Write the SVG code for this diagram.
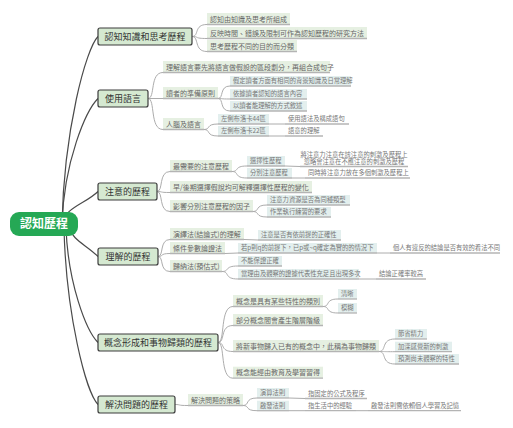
<svg xmlns="http://www.w3.org/2000/svg" width="513" height="428" viewBox="0 0 513 428">
<style>
text{font-family:"Noto Sans CJK TC","Noto Sans CJK SC",sans-serif}
.bg{fill:#ffffff}
.mb{fill:#d5e9d1;stroke:#3c3c3c;stroke-width:1.2}
.mt{font-size:9px;fill:#333;text-anchor:middle}
.rt{font-size:12px;fill:#fff;font-weight:bold;text-anchor:middle}
.l2{fill:#e6f0e2}
.l3{fill:#e3efee}
.ul{stroke:#b4b4b4;stroke-width:1.3}
.t2{font-size:7px;fill:#666}
.t3{font-size:6.3px;fill:#777}
.c{fill:none;stroke:#acacac;stroke-width:1}
.rc{fill:none;stroke:#4a4a4a;stroke-width:1.2}
</style>
<rect class="bg" x="0" y="0" width="513" height="428"/>
<g id="connectors">
<path class="rc" d="M62 224 C64 130 86 48.5 98 36.5"/>
<path class="rc" d="M62 224 C64 161 86 110.5 98 98.5"/>
<path class="rc" d="M62 224 C64 208 86 203.5 98 191.5"/>
<path class="rc" d="M70 228 C72 240 86 244.5 98 256.5"/>
<path class="rc" d="M66 228 C68 283 86 330.5 98 342.5"/>
<path class="rc" d="M64 228 C66 314 86 392.5 98 404.5"/>
<path class="c" d="M192 36.5 C199.5 36.5 193.5 24.5 207 24.5"/>
<path class="c" d="M192 36.5 C199.5 36.5 193.5 38.5 207 38.5"/>
<path class="c" d="M192 36.5 C199.5 36.5 193.5 51.5 207 51.5"/>
<path class="c" d="M148 98.5 C155.5 98.5 149.5 72.5 163 72.5"/>
<path class="c" d="M148 98.5 H163"/>
<path class="c" d="M148 98.5 C155.5 98.5 149.5 129.5 163 129.5"/>
<path class="c" d="M218 98.5 C224 98.5 219.2 86 230 86"/>
<path class="c" d="M218 98.5 C224 98.5 219.2 99 230 99"/>
<path class="c" d="M218 98.5 C224 98.5 219.2 111 230 111"/>
<path class="c" d="M204 129.5 C211 129.5 205.4 124 218 124"/>
<path class="c" d="M204 129.5 C211 129.5 205.4 136 218 136"/>
<path class="c" d="M269 124 H285"/>
<path class="c" d="M269 136 H285"/>
<path class="c" d="M157 191.5 C163.5 191.5 158.3 171.5 170 171.5"/>
<path class="c" d="M157 191.5 C163.5 191.5 158.3 192.5 170 192.5"/>
<path class="c" d="M157 191.5 C163.5 191.5 158.3 211.5 170 211.5"/>
<path class="c" d="M232 171.5 C239.5 171.5 233.5 166 247 166"/>
<path class="c" d="M232 171.5 C239.5 171.5 233.5 178 247 178"/>
<path class="c" d="M285 166 L300 166.5"/>
<path class="c" d="M292 178 H305"/>
<path class="c" d="M253 211.5 C260 211.5 254.5 205 267 205"/>
<path class="c" d="M253 211.5 C260 211.5 254.5 217 267 217"/>
<path class="c" d="M158 256.5 C164 256.5 159.2 239.5 170 239.5"/>
<path class="c" d="M158 256.5 C164 256.5 159.2 253.5 170 253.5"/>
<path class="c" d="M158 256.5 C164 256.5 159.2 271.5 170 271.5"/>
<path class="c" d="M244 239.5 L258 240"/>
<path class="c" d="M225 253.5 L238 253"/>
<path class="c" d="M377 253 H390"/>
<path class="c" d="M222 271.5 C230 271.5 223.6 266 238 266"/>
<path class="c" d="M222 271.5 C230 271.5 223.6 279 238 279"/>
<path class="c" d="M359 279 H376"/>
<path class="c" d="M218 342.5 C225.5 342.5 219.5 306.5 233 306.5"/>
<path class="c" d="M218 342.5 C225.5 342.5 219.5 325.5 233 325.5"/>
<path class="c" d="M218 342.5 C225.5 342.5 219.5 351.5 233 351.5"/>
<path class="c" d="M218 342.5 C225.5 342.5 219.5 378.2 233 378.2"/>
<path class="c" d="M323 306.5 C330.5 306.5 324.5 299 338 299"/>
<path class="c" d="M323 306.5 C330.5 306.5 324.5 313 338 313"/>
<path class="c" d="M379 351.5 C387 351.5 380.6 339 395 339"/>
<path class="c" d="M379 351.5 C387 351.5 380.6 351.7 395 351.7"/>
<path class="c" d="M379 351.5 C387 351.5 380.6 364 395 364"/>
<path class="c" d="M175 404.5 C181.5 404.5 176.3 405.5 188 405.5"/>
<path class="c" d="M243 405.5 C250 405.5 244.4 398 257 398"/>
<path class="c" d="M243 405.5 C250 405.5 244.4 410.7 257 410.7"/>
<path class="c" d="M289 398 L305 398.5"/>
<path class="c" d="M289 410.7 H305"/>
<path class="c" d="M356 410.7 H368"/>
</g>

<g id="root">
<rect x="10" y="212" width="68" height="24" rx="9" fill="#25a855"/>
<text class="rt" x="44" y="228.2">認知歷程</text>
</g>

<g id="b1">
<rect class="mb" x="98" y="28" width="94" height="17" rx="2"/>
<text class="mt" x="145" y="39.7">認知知識和思考歷程</text>
</g>
<g id="b1c1"><rect class="l2" x="207" y="13" width="83" height="11.5"/><line class="ul" x1="207" y1="24.5" x2="290" y2="24.5"/><text class="t2" x="210" y="21.5">認知由知識及思考所組成</text></g>
<g id="b1c2"><rect class="l2" x="207" y="27" width="160" height="11.5"/><line class="ul" x1="207" y1="38.5" x2="367" y2="38.5"/><text class="t2" x="210" y="35.5">反映時間、錯誤及限制可作為認知歷程的研究方法</text></g>
<g id="b1c3"><rect class="l2" x="207" y="40" width="90" height="11.5"/><line class="ul" x1="207" y1="51.5" x2="297" y2="51.5"/><text class="t2" x="210" y="48.5">思考歷程不同的目的而分類</text></g>

<g id="b2">
<rect class="mb" x="98" y="90" width="50" height="17" rx="2"/>
<text class="mt" x="123" y="101.7">使用語言</text>
</g>
<g id="b2c1"><rect class="l2" x="163" y="61" width="167" height="11.5"/><line class="ul" x1="163" y1="72.5" x2="330" y2="72.5"/><text class="t2" x="166" y="69.5">理解語言要先將語言做假設的區段劃分，再組合成句子</text></g>
<g id="b2c2"><rect class="l2" x="163" y="87" width="55" height="11.5"/><line class="ul" x1="163" y1="98.5" x2="218" y2="98.5"/><text class="t2" x="166" y="95.5">讀者的準備原則</text></g>
<g id="b2c2a"><rect class="l3" x="230" y="76" width="121" height="10"/><line class="ul" x1="230" y1="86" x2="351" y2="86"/><text class="t3" x="233" y="83.3">假定讀者方面有相同的背景知識及日常理解</text></g>
<g id="b2c2b"><rect class="l3" x="230" y="89" width="77" height="10"/><line class="ul" x1="230" y1="99" x2="307" y2="99"/><text class="t3" x="233" y="96.3">依據讀者認知的語言內容</text></g>
<g id="b2c2c"><rect class="l3" x="230" y="101" width="77" height="10"/><line class="ul" x1="230" y1="111" x2="307" y2="111"/><text class="t3" x="233" y="108.3">以讀者能理解的方式敘述</text></g>
<g id="b2c3"><rect class="l2" x="163" y="118" width="41" height="11.5"/><line class="ul" x1="163" y1="129.5" x2="204" y2="129.5"/><text class="t2" x="166" y="126.5">人腦及語言</text></g>
<g id="b2c3a"><rect class="l3" x="218" y="114" width="51" height="10"/><line class="ul" x1="218" y1="124" x2="269" y2="124"/><text class="t3" x="221" y="121.3">左側布洛卡44區</text></g>
<g id="b2c3a1"><line class="ul" x1="285" y1="124" x2="349" y2="124"/><text class="t3" x="288" y="121.3">使用語法及構成語句</text></g>
<g id="b2c3b"><rect class="l3" x="218" y="126" width="51" height="10"/><line class="ul" x1="218" y1="136" x2="269" y2="136"/><text class="t3" x="221" y="133.3">左側布洛卡22區</text></g>
<g id="b2c3b1"><line class="ul" x1="285" y1="136" x2="323" y2="136"/><text class="t3" x="288" y="133.3">語意的理解</text></g>

<g id="b3">
<rect class="mb" x="98" y="183" width="59" height="17" rx="2"/>
<text class="mt" x="127.5" y="194.7">注意的歷程</text>
</g>
<g id="b3c1"><rect class="l2" x="170" y="160" width="62" height="11.5"/><line class="ul" x1="170" y1="171.5" x2="232" y2="171.5"/><text class="t2" x="173" y="168.5">最需要的注意歷程</text></g>
<g id="b3c1a"><rect class="l3" x="247" y="156" width="38" height="10"/><line class="ul" x1="247" y1="166" x2="285" y2="166"/><text class="t3" x="250" y="163.3">選擇性歷程</text></g>
<g id="b3c1a1"><line class="ul" x1="300" y1="166.5" x2="408" y2="166.5"/><text class="t3" x="354" y="156.5" text-anchor="middle">將注意力注意在該注意的刺激及歷程上</text><text class="t3" x="354" y="164" text-anchor="middle">忽略會注意在不應注意的刺激及歷程</text></g>
<g id="b3c1b"><rect class="l3" x="247" y="168" width="45" height="10"/><line class="ul" x1="247" y1="178" x2="292" y2="178"/><text class="t3" x="250" y="175.3">分別注意歷程</text></g>
<g id="b3c1b1"><line class="ul" x1="305" y1="178" x2="410" y2="178"/><text class="t3" x="308" y="175.3">同時將注意力放在多個刺激及歷程上</text></g>
<g id="b3c2"><rect class="l2" x="170" y="181" width="142" height="11.5"/><line class="ul" x1="170" y1="192.5" x2="312" y2="192.5"/><text class="t2" x="173" y="189.5">早/後期選擇假說均可解釋選擇性歷程的變化</text></g>
<g id="b3c3"><rect class="l2" x="170" y="200" width="83" height="11.5"/><line class="ul" x1="170" y1="211.5" x2="253" y2="211.5"/><text class="t2" x="173" y="208.5">影響分別注意歷程的因子</text></g>
<g id="b3c3a"><rect class="l3" x="267" y="195" width="83" height="10"/><line class="ul" x1="267" y1="205" x2="350" y2="205"/><text class="t3" x="270" y="202.3">注意力資源是否為同種類型</text></g>
<g id="b3c3b"><rect class="l3" x="267" y="207" width="64" height="10"/><line class="ul" x1="267" y1="217" x2="331" y2="217"/><text class="t3" x="270" y="214.3">作業執行練習的要求</text></g>

<g id="b4">
<rect class="mb" x="98" y="248" width="60" height="17" rx="2"/>
<text class="mt" x="128" y="259.7">理解的歷程</text>
</g>
<g id="b4c1"><rect class="l2" x="170" y="228" width="74" height="11.5"/><line class="ul" x1="170" y1="239.5" x2="244" y2="239.5"/><text class="t2" x="173" y="236.5">演繹法(結論式)的理解</text></g>
<g id="b4c1a"><rect class="l3" x="258" y="230" width="83" height="10"/><line class="ul" x1="258" y1="240" x2="341" y2="240"/><text class="t3" x="261" y="237.3">注意是否有依前提的正確性</text></g>
<g id="b4c2"><rect class="l2" x="170" y="242" width="55" height="11.5"/><line class="ul" x1="170" y1="253.5" x2="225" y2="253.5"/><text class="t2" x="173" y="250.5">條件參數論證法</text></g>
<g id="b4c2a"><rect class="l3" x="238" y="243" width="139" height="10"/><line class="ul" x1="238" y1="253" x2="377" y2="253"/><text class="t3" x="241" y="250.3">若p則q的前提下，已p或~q確定為實的的情況下</text></g>
<g id="b4c2a1"><line class="ul" x1="390" y1="253" x2="500" y2="253"/><text class="t3" x="393" y="250.3">個人有違反的結論是否有效的看法不同</text></g>
<g id="b4c3"><rect class="l2" x="170" y="260" width="52" height="11.5"/><line class="ul" x1="170" y1="271.5" x2="222" y2="271.5"/><text class="t2" x="173" y="268.5">歸納法(預估式)</text></g>
<g id="b4c3a"><rect class="l3" x="238" y="256" width="44" height="10"/><line class="ul" x1="238" y1="266" x2="282" y2="266"/><text class="t3" x="241" y="263.3">不能保證正確</text></g>
<g id="b4c3b"><rect class="l3" x="238" y="269" width="121" height="10"/><line class="ul" x1="238" y1="279" x2="359" y2="279"/><text class="t3" x="241" y="276.3">當理由及觀察的證據代表性充足且出現多次</text></g>
<g id="b4c3b1"><line class="ul" x1="376" y1="279" x2="426" y2="279"/><text class="t3" x="379" y="276.3">結論正確率較高</text></g>

<g id="b5">
<rect class="mb" x="98" y="334" width="120" height="17" rx="2"/>
<text class="mt" x="158" y="345.7">概念形成和事物歸類的歷程</text>
</g>
<g id="b5c1"><rect class="l2" x="233" y="295" width="90" height="11.5"/><line class="ul" x1="233" y1="306.5" x2="323" y2="306.5"/><text class="t2" x="236" y="303.5">概念是具有某些特性的類別</text></g>
<g id="b5c1a"><rect class="l3" x="338" y="289" width="19" height="10"/><line class="ul" x1="338" y1="299" x2="357" y2="299"/><text class="t3" x="341" y="296.3">清晰</text></g>
<g id="b5c1b"><rect class="l3" x="338" y="303" width="19" height="10"/><line class="ul" x1="338" y1="313" x2="357" y2="313"/><text class="t3" x="341" y="310.3">模糊</text></g>
<g id="b5c2"><rect class="l2" x="233" y="314" width="90" height="11.5"/><line class="ul" x1="233" y1="325.5" x2="323" y2="325.5"/><text class="t2" x="236" y="322.5">部分概念間會產生階層階級</text></g>
<g id="b5c3"><rect class="l2" x="233" y="340" width="146" height="11.5"/><line class="ul" x1="233" y1="351.5" x2="379" y2="351.5"/><text class="t2" x="236" y="348.5">將新事物歸入已有的概念中，此稱為事物歸類</text></g>
<g id="b5c3a"><rect class="l3" x="395" y="329" width="32" height="10"/><line class="ul" x1="395" y1="339" x2="427" y2="339"/><text class="t3" x="398" y="336.3">節省精力</text></g>
<g id="b5c3b"><rect class="l3" x="395" y="341.7" width="57" height="10"/><line class="ul" x1="395" y1="351.7" x2="452" y2="351.7"/><text class="t3" x="398" y="349">加深感覺新的刺激</text></g>
<g id="b5c3c"><rect class="l3" x="395" y="354" width="64" height="10"/><line class="ul" x1="395" y1="364" x2="459" y2="364"/><text class="t3" x="398" y="361.3">預測尚未觀察的特性</text></g>
<g id="b5c4"><rect class="l2" x="233" y="366.7" width="90" height="11.5"/><line class="ul" x1="233" y1="378.2" x2="323" y2="378.2"/><text class="t2" x="236" y="375.2">概念能經由教育及學習習得</text></g>

<g id="b6">
<rect class="mb" x="98" y="396" width="77" height="17" rx="2"/>
<text class="mt" x="136.5" y="407.7">解決問題的歷程</text>
</g>
<g id="b6c1"><rect class="l2" x="188" y="394" width="55" height="11.5"/><line class="ul" x1="188" y1="405.5" x2="243" y2="405.5"/><text class="t2" x="191" y="402.5">解決問題的策略</text></g>
<g id="b6c1a"><rect class="l3" x="257" y="388" width="32" height="10"/><line class="ul" x1="257" y1="398" x2="289" y2="398"/><text class="t3" x="260" y="395.3">演算法則</text></g>
<g id="b6c1a1"><line class="ul" x1="305" y1="398.5" x2="367" y2="398.5"/><text class="t3" x="308" y="395.8">指固定的公式及程序</text></g>
<g id="b6c1b"><rect class="l3" x="257" y="400.7" width="32" height="10"/><line class="ul" x1="257" y1="410.7" x2="289" y2="410.7"/><text class="t3" x="260" y="408">啟發法則</text></g>
<g id="b6c1b1"><line class="ul" x1="305" y1="410.7" x2="356" y2="410.7"/><text class="t3" x="308" y="408">指生活中的經驗</text></g>
<g id="b6c1b2"><line class="ul" x1="368" y1="410.7" x2="461" y2="410.7"/><text class="t3" x="371" y="408">啟發法則需依賴個人學習及記憶</text></g>
</svg>
